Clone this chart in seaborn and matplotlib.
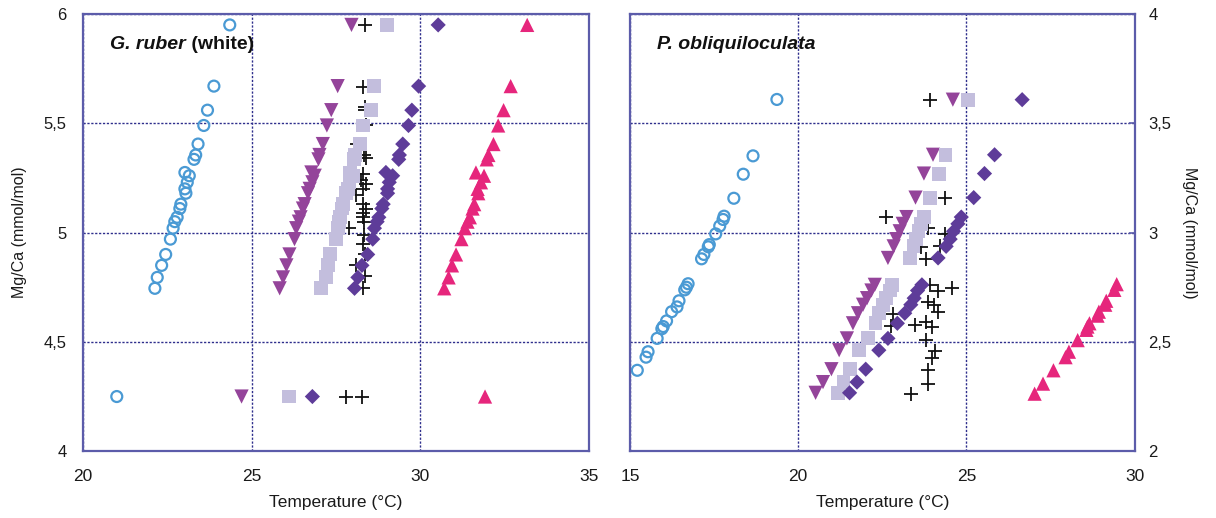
import matplotlib
matplotlib.use("Agg")
import matplotlib.pyplot as plt
from matplotlib.ticker import FuncFormatter
import seaborn as sns
import numpy as np

# ---------------- G. ruber (white) ----------------
ruber_mgca = [5.95, 5.67, 5.56, 5.49, 5.405, 5.355, 5.335, 5.275, 5.26, 5.23, 5.20, 5.18,
              5.13, 5.11, 5.07, 5.05, 5.02, 4.97, 4.90, 4.85, 4.795, 4.745, 4.25]
ruber_circle_t = [24.35, 23.88, 23.69, 23.58, 23.41, 23.34, 23.29, 23.02, 23.15, 23.09, 23.02, 23.05,
                  22.90, 22.87, 22.79, 22.72, 22.67, 22.59, 22.45, 22.33, 22.20, 22.13, 21.00]
ruber_tridown_t = [27.96, 27.55, 27.36, 27.23, 27.11, 27.01, 26.98, 26.77, 26.87, 26.80, 26.72, 26.67,
                   26.57, 26.52, 26.45, 26.40, 26.32, 26.27, 26.12, 26.03, 25.93, 25.83, 24.70]
ruber_square_t = [29.02, 28.64, 28.54, 28.29, 28.20, 28.07, 28.03, 27.92, 28.00, 27.90, 27.85, 27.80,
                  27.72, 27.68, 27.63, 27.60, 27.57, 27.50, 27.33, 27.27, 27.20, 27.06, 26.10]
ruber_diamond_t = [30.53, 29.95, 29.75, 29.65, 29.48, 29.38, 29.36, 28.98, 29.18, 29.08, 29.03, 29.03,
                   28.90, 28.86, 28.77, 28.72, 28.64, 28.59, 28.44, 28.27, 28.15, 28.05, 26.80]
ruber_triup_t = [33.17, 32.68, 32.47, 32.31, 32.17, 32.02, 31.97, 31.65, 31.89, 31.80, 31.70, 31.72,
                 31.60, 31.55, 31.47, 31.40, 31.32, 31.22, 31.06, 30.94, 30.84, 30.71, 31.92]
ruber_cross_t = [28.37, 28.31, 28.36, 28.36, 28.39, 28.12, 28.34, 28.39, 28.29, 28.25, 28.40, 28.30,
                 28.10, 28.30, 28.40, 28.30, 28.30, 28.32, 27.90, 28.34, 28.30, 28.37, 28.10, 28.37,
                 28.31, 27.81, 28.28]
ruber_cross_mgca = [5.95, 5.667, 5.575, 5.56, 5.49, 5.405, 5.355, 5.34, 5.27, 5.24, 5.22, 5.20,
                    5.17, 5.13, 5.11, 5.09, 5.07, 5.05, 5.02, 4.99, 4.95, 4.90, 4.85, 4.80,
                    4.745, 4.25, 4.25]

# ---------------- P. obliquiloculata ----------------
obl_circle_t = [19.37, 18.66, 18.37, 18.09, 17.80, 17.77, 17.67, 17.55, 17.36, 17.33, 17.20, 17.13,
                16.73, 16.68, 16.63, 16.46, 16.40, 16.24, 16.09, 15.99, 15.95, 15.81, 15.54, 15.48, 15.22]
obl_circle_mgca = [3.609, 3.351, 3.267, 3.157, 3.075, 3.06, 3.03, 2.994, 2.945, 2.935, 2.90, 2.88,
                   2.766, 2.75, 2.738, 2.688, 2.66, 2.638, 2.596, 2.57, 2.56, 2.516, 2.455, 2.43, 2.37]

obl_mgca = [3.608, 3.356, 3.27, 3.16, 3.071, 3.04, 3.006, 2.97, 2.937, 2.884, 2.761, 2.735, 2.70,
            2.67, 2.631, 2.585, 2.516, 2.462, 2.375, 2.316, 2.267]
obl_tridown_t = [24.60, 24.01, 23.74, 23.49, 23.22, 23.11, 23.02, 22.92, 22.84, 22.67, 22.28, 22.18,
                 22.05, 21.93, 21.78, 21.63, 21.45, 21.22, 20.99, 20.74, 20.52]
obl_square_t = [25.05, 24.38, 24.19, 23.91, 23.75, 23.65, 23.58, 23.50, 23.43, 23.32, 22.80, 22.72,
                22.62, 22.52, 22.40, 22.30, 22.08, 21.82, 21.55, 21.35, 21.18]
obl_diamond_t = [26.66, 25.84, 25.54, 25.22, 24.85, 24.75, 24.62, 24.52, 24.40, 24.16, 23.68, 23.55,
                 23.45, 23.35, 23.17, 22.95, 22.67, 22.40, 22.01, 21.75, 21.53]

obl_triup_t = [29.47, 29.40, 29.16, 29.13, 28.94, 28.90, 28.66, 28.60, 28.57, 28.31, 28.05, 27.95,
               27.59, 27.28, 27.03]
obl_triup_mgca = [2.764, 2.738, 2.688, 2.67, 2.638, 2.62, 2.585, 2.57, 2.555, 2.508, 2.455, 2.43,
                  2.37, 2.309, 2.263]

obl_cross_t = [23.91, 24.36, 22.60, 23.86, 24.36, 23.66, 24.21, 23.81, 23.91, 24.16, 24.58, 23.86,
               24.03, 24.16, 22.82, 22.77, 23.46, 23.81, 23.99, 23.81, 24.06, 23.99, 23.86, 23.86, 23.37]
obl_cross_mgca = [3.608, 3.157, 3.071, 3.02, 2.994, 2.933, 2.937, 2.88, 2.758, 2.733, 2.746, 2.684,
                  2.67, 2.638, 2.626, 2.574, 2.577, 2.589, 2.569, 2.508, 2.458, 2.424, 2.37, 2.309, 2.263]

# axis settings
ruber_xticks = [20, 25, 30, 35]
ruber_yticks = [4, 4.5, 5, 5.5, 6]
obl_xticks = [15, 20, 25, 30]
obl_yticks = [2, 2.5, 3, 3.5, 4]

C_CIRCLE = "#4A9AD4"
C_TRIDOWN = "#94449A"
C_SQUARE = "#C3BEDD"
C_DIAMOND = "#5E3C99"
C_TRIUP = "#E6267C"
C_CROSS = "#111111"
C_GRID = "#2E2E8C"
C_SPINE = "#5C5CAA"

sns.set_style("white")
plt.rcParams["font.family"] = ["Liberation Sans", "DejaVu Sans"]

fig = plt.figure(figsize=(12.16, 5.18), dpi=100)
ax_l = fig.add_axes([0.0683, 0.129, 0.416, 0.844])
ax_r = fig.add_axes([0.518, 0.129, 0.415, 0.844])


def draw_panel(ax, circle, tridown, square, diamond, cross, triup):
    sns.scatterplot(x=cross[0], y=cross[1], marker="+", color=C_CROSS, s=115,
                    linewidth=1.3, ax=ax, zorder=3)
    sns.scatterplot(x=circle[0], y=circle[1], marker="o", color=C_CIRCLE,
                    facecolors="none", edgecolor=C_CIRCLE, s=62, linewidth=1.6, ax=ax, zorder=3)
    sns.scatterplot(x=tridown[0], y=tridown[1], marker="v", color=C_TRIDOWN,
                    edgecolor="none", s=105, ax=ax, zorder=3)
    sns.scatterplot(x=square[0], y=square[1], marker="s", color=C_SQUARE,
                    edgecolor="none", s=100, ax=ax, zorder=3)
    sns.scatterplot(x=diamond[0], y=diamond[1], marker="D", color=C_DIAMOND,
                    edgecolor="none", s=60, ax=ax, zorder=3)
    sns.scatterplot(x=triup[0], y=triup[1], marker="^", color=C_TRIUP,
                    edgecolor="none", s=105, ax=ax, zorder=3)


draw_panel(ax_l,
           (ruber_circle_t, ruber_mgca), (ruber_tridown_t, ruber_mgca),
           (ruber_square_t, ruber_mgca), (ruber_diamond_t, ruber_mgca),
           (ruber_cross_t, ruber_cross_mgca), (ruber_triup_t, ruber_mgca))
draw_panel(ax_r,
           (obl_circle_t, obl_circle_mgca), (obl_tridown_t, obl_mgca),
           (obl_square_t, obl_mgca), (obl_diamond_t, obl_mgca),
           (obl_cross_t, obl_cross_mgca), (obl_triup_t, obl_triup_mgca))

comma = FuncFormatter(lambda v, _: f"{v:g}".replace(".", ","))

for ax, xt, yt in ((ax_l, ruber_xticks, ruber_yticks), (ax_r, obl_xticks, obl_yticks)):
    ax.set_xlim(xt[0], xt[-1])
    ax.set_ylim(yt[0], yt[-1])
    ax.set_xticks(xt)
    ax.set_yticks(yt)
    ax.yaxis.set_major_formatter(comma)
    ax.grid(True, color=C_GRID, linestyle=(0, (1.6, 1.2)), linewidth=1.0, zorder=1)
    ax.set_axisbelow(True)
    for sp in ax.spines.values():
        sp.set_color(C_SPINE)
        sp.set_linewidth(1.6)
        sp.set_zorder(4)
    ax.tick_params(axis="both", direction="in", length=4, width=1.2, color=C_SPINE,
                   labelcolor="#1a1a1a")
    ax.tick_params(axis="x", pad=13, labelsize=12.5)
    ax.set_xlabel("Temperature (°C)", fontsize=12.5, labelpad=8, color="#1a1a1a")

ax_l.tick_params(axis="y", pad=12, labelsize=12)
ax_l.set_ylabel("Mg/Ca (mmol/mol)", fontsize=11.5, labelpad=12, color="#1a1a1a")

ax_r.yaxis.tick_right()
ax_r.yaxis.set_label_position("right")
ax_r.tick_params(axis="y", pad=10, labelsize=12, left=False, right=True)
ax_r.set_ylabel("Mg/Ca (mmol/mol)", fontsize=11.5, labelpad=18, rotation=270, color="#1a1a1a")

t1 = ax_l.text(0.053, 0.93, "G. ruber", transform=ax_l.transAxes, fontsize=14,
               fontweight="bold", fontstyle="italic", va="center", ha="left", color="#111111")
ax_l.annotate(" (white)", xy=(1, 0.5), xycoords=t1, va="center", ha="left",
              fontsize=14, fontweight="bold", color="#111111")
ax_r.text(0.053, 0.93, "P. obliquiloculata", transform=ax_r.transAxes, fontsize=14,
          fontweight="bold", fontstyle="italic", va="center", ha="left", color="#111111")

fig.savefig("out.png", dpi=100, facecolor="white")
